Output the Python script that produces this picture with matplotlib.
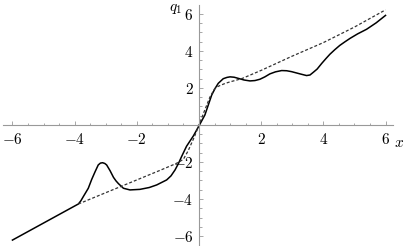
import matplotlib

matplotlib.use("Agg")
import matplotlib.pyplot as plt
import numpy as np
from matplotlib.ticker import FixedLocator, FuncFormatter

plt.rcParams["mathtext.fontset"] = "cm"

# solid curve
solid_x = [-6.0, -5.0, -4.5, -3.88, -3.80, -3.72, -3.56, -3.45, -3.34, -3.24,
           -3.17, -3.10, -3.03, -2.97, -2.86, -2.75, -2.67, -2.59, -2.43, -2.22,
           -1.90, -1.60, -1.36, -1.04, -0.90, -0.77, -0.66, -0.56, -0.40, -0.18,
           0.0, 0.19, 0.41, 0.52, 0.62, 0.78, 0.90, 1.0, 1.13, 1.26, 1.45,
           1.64, 1.80, 1.96, 2.12, 2.28, 2.46, 2.66, 2.82, 2.98, 3.25, 3.46,
           3.57, 3.68, 3.80, 3.95, 4.08, 4.21, 4.37, 4.53, 4.70, 4.86, 5.10,
           5.39, 5.70, 6.0]
solid_y = [-6.22, -5.30, -4.84, -4.27, -4.10, -3.87, -3.42, -2.94, -2.52, -2.16,
           -2.06, -2.04, -2.08, -2.16, -2.47, -2.83, -3.02, -3.17, -3.42, -3.51,
           -3.48, -3.38, -3.24, -2.97, -2.75, -2.43, -2.08, -1.71, -1.15, -0.59,
           -0.05, 0.54, 1.62, 1.98, 2.25, 2.50, 2.57, 2.60, 2.58, 2.52, 2.43,
           2.38, 2.40, 2.47, 2.60, 2.76, 2.87, 2.94, 2.93, 2.88, 2.76, 2.67,
           2.70, 2.85, 3.02, 3.33, 3.58, 3.82, 4.07, 4.30, 4.50, 4.68, 4.92,
           5.17, 5.52, 5.92]

# dashed curve
dash_x = [-3.88, -3.0, -2.0, -1.25, -0.80, -0.66, -0.5, -0.35, -0.15, 0.0,
          0.15, 0.35, 0.5, 0.6, 0.7, 0.85, 1.0, 1.2, 1.4, 2.0, 3.0, 4.0, 5.0, 6.0]
dash_y = [-4.27, -3.66, -2.97, -2.45, -2.13, -2.02, -1.85, -1.40, -0.65, 0.0,
          0.65, 1.50, 1.95, 2.07, 2.15, 2.25, 2.33, 2.42, 2.52, 2.95, 3.72,
          4.45, 5.29, 6.22]

major_ticks = [-6, -4, -2, 2, 4, 6]
minor_ticks = [v for v in np.arange(-6.0, 6.01, 0.5) if v != 0 and v not in major_ticks]

fig = plt.figure(figsize=(4.09, 2.46), dpi=100)
ax = fig.add_axes([0.0076, 0.003, 0.954, 0.978])

ax.plot(solid_x, solid_y, color="black", lw=1.1, solid_joinstyle="round")
ax.plot(dash_x, dash_y, color="#333333", lw=0.9, dashes=(2.4, 1.6))

ax.set_xlim(-6.3, 6.25)
ax.set_ylim(-6.5, 6.5)

for side in ("top", "right"):
    ax.spines[side].set_visible(False)
for side in ("left", "bottom"):
    ax.spines[side].set_position(("data", 0))
    ax.spines[side].set_color("#999999")
    ax.spines[side].set_linewidth(0.8)

fmt = FuncFormatter(lambda v, _: f"${v:g}$")
for axis in (ax.xaxis, ax.yaxis):
    axis.set_major_locator(FixedLocator(major_ticks))
    axis.set_minor_locator(FixedLocator(minor_ticks))
    axis.set_major_formatter(fmt)

ax.tick_params(which="both", direction="in", color="#999999", width=0.6,
               labelsize=11, labelcolor="black")
ax.tick_params(which="major", length=3)
ax.tick_params(which="minor", length=1.8)
ax.tick_params(axis="x", which="major", pad=5)
ax.tick_params(axis="y", which="major", pad=4)

ax.text(6.43, -0.97, "$x$", fontsize=11, ha="center", va="center")
ax.text(-0.74, 6.32, "$q_1$", fontsize=11, ha="center", va="center")

fig.savefig("out.png", dpi=100)
